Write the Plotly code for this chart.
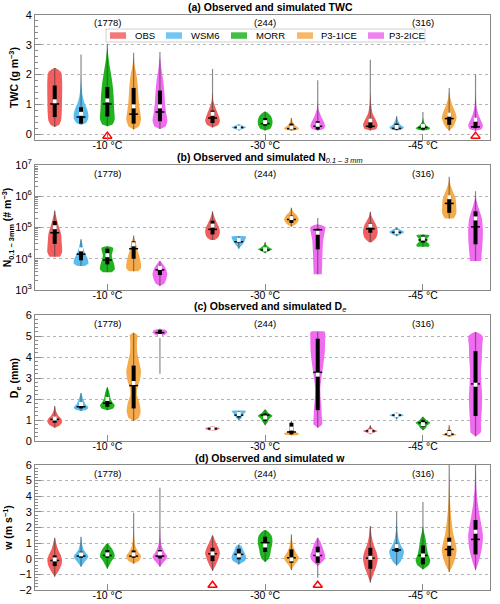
import plotly.graph_objects as go
from plotly.subplots import make_subplots

# ---------------- data ----------------
temps = ["-10 °C", "-30 °C", "-45 °C"]
counts = ["(1778)", "(244)", "(316)"]
models = ["OBS", "WSM6", "MORR", "P3-1ICE", "P3-2ICE"]
colors = ["#f25e5e", "#5bbcf0", "#1fb41f", "#f5ab4c", "#ef6bef"]

# order of the 15 entries: (-10: OBS, WSM6, MORR, P3-1ICE, P3-2ICE), (-30: ...), (-45: ...)
# ---- (a) TWC (g m-3)
twc_lo = [0.24, 0.33, 0.26, 0.15, 0.17, 0.22, 0.12, 0.12, 0.11, 0.12, 0.12, 0.12, 0.12, 0.11, 0.11]
twc_hi = [2.22, 2.67, 3.03, 2.73, 2.76, 2.19, 0.33, 0.76, 0.54, 1.81, 2.50, 0.60, 0.74, 1.55, 2.00]
twc_q1 = [0.57, 0.35, 0.59, 0.35, 0.43, 0.37, 0.19, 0.28, 0.15, 0.15, 0.20, 0.15, 0.15, 0.31, 0.20]
twc_q3 = [1.63, 0.90, 1.58, 1.55, 1.46, 0.79, 0.25, 0.54, 0.35, 0.43, 0.54, 0.35, 0.35, 0.71, 0.54]
twc_mean = [1.10, 0.68, 1.13, 0.93, 0.93, 0.68, 0.22, 0.40, 0.22, 0.31, 0.46, 0.24, 0.28, 0.65, 0.48]
twc_median = [1.01, 0.57, 1.01, 0.67, 0.74, 0.54, 0.22, 0.35, 0.18, 0.26, 0.26, 0.19, 0.22, 0.52, 0.24]
twc_density = [
    [[0.24, 0], [0.3, 0.55], [0.45, 0.85], [0.7, 0.95], [1.2, 1.0], [1.8, 1.0], [2.08, 0.85], [2.22, 0]],
    [[0.31, 0], [0.36, 0.6], [0.5, 0.95], [0.65, 1.0], [0.85, 0.8], [1.05, 0.45], [1.3, 0.2], [1.7, 0.05], [2.0, 0]],
    [[0.26, 0], [0.32, 0.7], [0.5, 1.0], [0.75, 0.95], [1.0, 0.9], [1.3, 0.85], [1.7, 0.7], [2.1, 0.45], [2.5, 0.2], [2.85, 0.05], [3.0, 0]],
    [[0.15, 0], [0.25, 0.7], [0.5, 1.0], [0.8, 0.85], [1.1, 0.7], [1.5, 0.6], [1.9, 0.45], [2.3, 0.15], [2.6, 0]],
    [[0.17, 0], [0.25, 0.75], [0.45, 1.0], [0.7, 0.85], [1.0, 0.7], [1.4, 0.6], [1.8, 0.45], [2.2, 0.2], [2.6, 0]],
    [[0.22, 0], [0.3, 0.75], [0.45, 1.0], [0.6, 0.85], [0.85, 0.45], [1.1, 0.12], [1.4, 0]],
    [[0.12, 0], [0.18, 0.6], [0.22, 1.0], [0.27, 0.6], [0.33, 0]],
    [[0.12, 0], [0.18, 0.7], [0.3, 0.95], [0.45, 1.0], [0.6, 0.8], [0.72, 0.3], [0.76, 0]],
    [[0.11, 0], [0.15, 0.9], [0.2, 1.0], [0.28, 0.55], [0.4, 0.2], [0.54, 0]],
    [[0.12, 0], [0.17, 0.8], [0.25, 1.0], [0.4, 0.85], [0.6, 0.45], [0.85, 0.1], [1.1, 0]],
    [[0.12, 0], [0.17, 0.8], [0.3, 1.0], [0.5, 0.7], [0.7, 0.3], [1.0, 0.1], [1.4, 0]],
    [[0.12, 0], [0.15, 0.7], [0.22, 1.0], [0.3, 0.55], [0.45, 0.2], [0.6, 0]],
    [[0.12, 0], [0.15, 0.8], [0.2, 1.0], [0.28, 0.5], [0.4, 0.15], [0.55, 0]],
    [[0.11, 0], [0.2, 0.4], [0.35, 0.75], [0.55, 1.0], [0.75, 0.8], [0.95, 0.45], [1.2, 0.15], [1.45, 0]],
    [[0.11, 0], [0.16, 0.8], [0.28, 1.0], [0.45, 0.75], [0.65, 0.4], [0.9, 0.15], [1.2, 0.05], [1.4, 0]],
]
twc_flags = [("-10 °C", "MORR"), ("-45 °C", "P3-2ICE")]

# ---- (b) N0.1-3mm (# m-3)
n_lo = [1.15e4, 5.9e3, 3.7e3, 4.0e3, 1.35e3, 4.0e4, 2.1e4, 1.5e4, 1.05e5, 3.2e3, 3.4e4, 5.2e4, 2.4e4, 1.95e5, 8.5e3]
n_hi = [3.5e5, 4.2e4, 2.5e4, 5.5e4, 8.5e3, 3.3e5, 5.2e4, 3.4e4, 4.3e5, 2.0e5, 3.2e5, 9.8e4, 6.0e4, 4.2e6, 1.45e6]
n_q1 = [3.0e4, 8.9e3, 6.6e3, 1.0e4, 3.0e3, 6.0e4, 3.5e4, 1.8e4, 1.4e5, 2.0e4, 6.8e4, 6.5e4, 3.3e4, 2.95e5, 2.9e4]
n_q3 = [1.6e5, 2.1e4, 2.1e4, 3.6e4, 5.9e3, 1.65e5, 4.6e4, 2.2e4, 2.4e5, 9.1e4, 1.4e5, 8.0e4, 5.5e4, 1.05e6, 3.3e5]
n_mean = [1.02e5, 2.0e4, 1.3e4, 2.9e4, 5.1e3, 1.15e5, 4.0e4, 2.0e4, 2.0e5, 6.8e4, 1.15e5, 7.2e4, 4.4e4, 9.3e5, 1.95e5]
n_median = [6.8e4, 1.4e4, 9.1e3, 2.1e4, 4.4e3, 8.7e4, 3.5e4, 1.9e4, 1.8e5, 8.5e4, 9.1e4, 7.0e4, 4.0e4, 5.9e5, 1.05e5]
n_density = [
    [[1.15e4, 0.7], [1.6e4, 1.0], [3.2e4, 0.95], [6.3e4, 0.85], [1.0e5, 0.6], [1.6e5, 0.35], [2.5e5, 0.15], [3.5e5, 0]],
    [[5.9e3, 0.5], [7.1e3, 1.0], [1.0e4, 0.9], [1.4e4, 0.6], [2.0e4, 0.35], [3.2e4, 0.15], [4.2e4, 0]],
    [[3.7e3, 0.6], [4.5e3, 1.0], [6.3e3, 0.95], [8.9e3, 0.75], [1.26e4, 0.6], [1.6e4, 0.7], [2.2e4, 0.8], [2.5e4, 0]],
    [[4.0e3, 0.6], [5.0e3, 1.0], [7.9e3, 0.95], [1.26e4, 0.75], [2.0e4, 0.5], [3.2e4, 0.3], [4.5e4, 0.1], [5.5e4, 0]],
    [[1.35e3, 0], [1.6e3, 0.6], [2.2e3, 0.85], [3.2e3, 1.0], [4.5e3, 0.85], [6.3e3, 0.5], [8.5e3, 0]],
    [[4.0e4, 0.3], [5.0e4, 0.8], [7.1e4, 1.0], [1.0e5, 0.9], [1.4e5, 0.6], [2.0e5, 0.3], [2.8e5, 0.1], [3.3e5, 0]],
    [[2.1e4, 0], [2.8e4, 0.45], [3.8e4, 0.8], [5.0e4, 1.0], [5.2e4, 0.9]],
    [[1.5e4, 0], [1.8e4, 0.6], [2.0e4, 1.0], [2.3e4, 0.55], [2.8e4, 0.15], [3.4e4, 0]],
    [[1.05e5, 0], [1.26e5, 0.6], [1.8e5, 1.0], [2.5e5, 0.7], [3.2e5, 0.25], [4.3e5, 0]],
    [[3.2e3, 0.55], [6.3e3, 0.6], [1.6e4, 0.65], [4.0e4, 0.75], [7.1e4, 0.95], [1.0e5, 1.0], [1.15e5, 0.6], [1.26e5, 0]],
    [[3.4e4, 0.2], [4.5e4, 0.75], [7.1e4, 1.0], [1.12e5, 0.85], [1.6e5, 0.5], [2.2e5, 0.2], [3.2e5, 0]],
    [[5.2e4, 0], [6.3e4, 0.7], [7.2e4, 1.0], [8.3e4, 0.6], [9.8e4, 0]],
    [[2.4e4, 0.8], [2.8e4, 0.9], [3.5e4, 0.55], [4.5e4, 0.6], [5.6e4, 0.9], [6.0e4, 0]],
    [[1.95e5, 0.6], [2.8e5, 0.95], [5.0e5, 0.95], [8.9e5, 0.85], [1.4e6, 0.5], [2.2e6, 0.2], [3.2e6, 0.05], [4.2e6, 0]],
    [[8.5e3, 0.75], [1.6e4, 0.85], [3.2e4, 0.95], [7.9e4, 1.0], [2.0e5, 0.85], [4.0e5, 0.45], [7.1e5, 0.15], [1.0e6, 0]],
]

# ---- (c) De (mm)
de_lo = [0.63, 1.43, 1.47, 0.95, 3.20, 0.48, 0.99, 0.75, 0.27, 0.63, 0.32, 1.03, 0.51, 0.19, 0.22]
de_hi = [1.67, 2.28, 2.56, 5.16, 5.35, 0.70, 1.43, 1.50, 0.96, 5.22, 0.75, 1.36, 1.15, 0.75, 5.19]
de_q1 = [0.87, 1.55, 1.63, 1.55, 5.08, 0.55, 1.12, 0.96, 0.32, 1.47, 0.42, 1.18, 0.67, 0.27, 1.19]
de_q3 = [1.15, 1.84, 2.08, 3.59, 5.28, 0.63, 1.31, 1.31, 0.87, 4.87, 0.50, 1.28, 0.99, 0.51, 4.28]
de_mean = [1.07, 1.76, 2.00, 2.76, 5.00, 0.59, 1.28, 1.12, 0.59, 3.16, 0.46, 1.23, 0.80, 0.38, 2.68]
de_median = [1.03, 1.63, 1.80, 2.64, 5.16, 0.58, 1.23, 1.23, 0.43, 3.27, 0.48, 1.23, 0.87, 0.32, 2.72]
de_density = [
    [[0.63, 0], [0.75, 0.7], [0.9, 1.0], [1.05, 0.9], [1.2, 0.5], [1.4, 0.2], [1.67, 0]],
    [[1.43, 0], [1.5, 0.8], [1.6, 1.0], [1.75, 0.6], [1.9, 0.4], [2.1, 0.2], [2.28, 0]],
    [[1.47, 0], [1.55, 0.8], [1.7, 1.0], [1.85, 0.7], [2.0, 0.45], [2.2, 0.35], [2.4, 0.2], [2.56, 0]],
    [[0.95, 0], [1.1, 0.7], [1.4, 0.95], [1.8, 0.8], [2.2, 0.45], [2.5, 0.5], [2.9, 0.85], [3.3, 1.0], [3.7, 0.8], [4.2, 0.5], [4.7, 0.45], [5.05, 0.5], [5.16, 0]],
    [[4.95, 0], [5.05, 0.6], [5.15, 1.0], [5.28, 0.8], [5.35, 0]],
    [[0.48, 0], [0.54, 0.7], [0.59, 1.0], [0.65, 0.6], [0.7, 0]],
    [[0.99, 0], [1.1, 0.35], [1.25, 0.6], [1.38, 0.9], [1.43, 1.0]],
    [[0.75, 0], [0.9, 0.35], [1.05, 0.55], [1.2, 1.0], [1.32, 0.5], [1.5, 0]],
    [[0.27, 0], [0.3, 0.9], [0.36, 1.0], [0.45, 0.4], [0.6, 0.25], [0.8, 0.15], [0.96, 0]],
    [[0.63, 0], [0.8, 0.6], [1.2, 0.55], [1.6, 0.5], [2.0, 0.4], [2.5, 0.35], [3.0, 0.5], [3.6, 0.75], [4.2, 0.95], [4.8, 1.0], [5.2, 0.95], [5.22, 0]],
    [[0.32, 0], [0.42, 0.6], [0.48, 1.0], [0.55, 0.45], [0.65, 0.15], [0.75, 0]],
    [[1.03, 0], [1.15, 0.4], [1.23, 1.0], [1.3, 0.45], [1.36, 0]],
    [[0.51, 0], [0.62, 0.4], [0.75, 0.6], [0.87, 1.0], [1.0, 0.45], [1.15, 0]],
    [[0.19, 0], [0.25, 0.6], [0.3, 1.0], [0.38, 0.4], [0.55, 0.15], [0.75, 0]],
    [[0.22, 0], [0.4, 0.7], [0.9, 0.75], [1.5, 0.85], [2.1, 0.9], [2.7, 0.8], [3.3, 0.75], [3.9, 0.85], [4.5, 0.9], [5.0, 0.95], [5.19, 0]],
]

# ---- (d) w (m s-1)
w_lo = [-1.15, -0.51, -0.64, -0.32, -0.51, -0.79, -0.36, -0.21, -0.73, -1.22, -1.54, -0.43, -0.68, -0.85, -0.73]
w_hi = [1.35, 1.41, 0.98, 2.95, 4.55, 1.50, 0.92, 1.84, 1.56, 1.35, 2.09, 2.99, 3.63, 6.50, 6.50]
w_q1 = [-0.47, 0.06, 0.06, 0.06, 0.02, -0.15, -0.04, 0.43, -0.26, -0.26, -0.64, 0.43, -0.36, 0.17, 0.28]
w_q3 = [0.21, 0.45, 0.56, 0.53, 0.56, 0.70, 0.64, 1.41, 0.60, 0.77, 0.70, 0.96, 0.85, 1.35, 2.48]
w_mean = [-0.04, 0.28, 0.28, 0.28, 0.34, 0.34, 0.21, 0.85, -0.04, 0.28, 0.06, 0.81, 0.21, 0.96, 1.73]
w_median = [-0.11, 0.17, 0.21, 0.17, 0.17, 0.32, 0.28, 1.03, 0.06, 0.21, 0.04, 0.56, 0.21, 0.60, 1.24]
w_density = [
    [[-1.15, 0], [-0.8, 0.5], [-0.4, 0.9], [-0.1, 1.0], [0.25, 0.8], [0.6, 0.45], [1.0, 0.2], [1.35, 0]],
    [[-0.51, 0], [-0.3, 0.35], [-0.05, 0.75], [0.15, 1.0], [0.35, 0.7], [0.6, 0.35], [1.0, 0.12], [1.41, 0]],
    [[-0.64, 0], [-0.4, 0.3], [-0.1, 0.65], [0.15, 1.0], [0.4, 0.9], [0.7, 0.55], [0.98, 0]],
    [[-0.32, 0], [-0.15, 0.7], [0.05, 0.95], [0.2, 1.0], [0.45, 0.6], [0.8, 0.25], [1.3, 0.1], [1.9, 0.03], [2.2, 0]],
    [[-0.51, 0], [-0.25, 0.45], [0.0, 0.9], [0.15, 1.0], [0.4, 0.65], [0.8, 0.25], [1.3, 0.08], [1.9, 0.03], [2.3, 0]],
    [[-0.79, 0], [-0.4, 0.45], [0.0, 0.8], [0.35, 1.0], [0.7, 0.8], [1.1, 0.4], [1.5, 0]],
    [[-0.36, 0], [-0.15, 0.8], [0.05, 1.0], [0.3, 0.85], [0.55, 0.6], [0.81, 0.35], [0.92, 0]],
    [[-0.21, 0], [0.0, 0.5], [0.3, 0.7], [0.6, 0.8], [0.9, 0.95], [1.2, 1.0], [1.5, 0.85], [1.75, 0.4], [1.84, 0]],
    [[-0.73, 0], [-0.4, 0.4], [-0.1, 0.9], [0.1, 1.0], [0.4, 0.6], [0.8, 0.25], [1.2, 0.1], [1.56, 0]],
    [[-0.47, 0], [-0.3, 0.4], [-0.05, 0.9], [0.2, 1.0], [0.45, 0.85], [0.8, 0.6], [1.1, 0.35], [1.35, 0]],
    [[-1.54, 0], [-1.0, 0.4], [-0.5, 0.8], [0.0, 1.0], [0.4, 0.85], [0.9, 0.45], [1.4, 0.2], [2.0, 0.05], [2.09, 0]],
    [[-0.43, 0], [-0.2, 0.5], [0.2, 0.9], [0.5, 1.0], [0.8, 0.65], [1.2, 0.3], [1.8, 0.1], [2.3, 0.03], [2.5, 0]],
    [[-0.68, 0], [-0.4, 0.8], [-0.1, 1.0], [0.3, 0.7], [0.8, 0.5], [1.3, 0.35], [1.7, 0.15], [2.1, 0]],
    [[-0.85, 0], [-0.4, 0.5], [0.2, 0.9], [0.6, 1.0], [1.0, 0.85], [1.6, 0.55], [2.3, 0.35], [3.0, 0.2], [4.0, 0.08], [5.2, 0.02], [5.5, 0]],
    [[-0.73, 0], [-0.3, 0.35], [0.3, 0.7], [1.0, 0.95], [1.5, 1.0], [2.0, 0.85], [2.8, 0.55], [3.6, 0.3], [4.5, 0.12], [5.5, 0.04], [6.1, 0]],
]
w_flags = [("-30 °C", "OBS"), ("-30 °C", "P3-2ICE")]

# ---------------- layout helpers ----------------
L, R, T, B = 35, 490, 15, 590
W_FIG, H_FIG = 500, 604
def pxx(px):
    return (px - L) / (R - L)
def pxy(py):
    return (B - py) / (B - T)

panel_top = [15, 165, 315, 465]
panel_bot = [140, 290, 441, 590]
HW = 0.28
FONT = "Liberation Sans, Arial, sans-serif"

def xpos(i):
    g, m = divmod(i, 5)
    return 1 + 6 * g + m

fig = make_subplots(rows=4, cols=1)

def add_panel(r, lo, hi, q1, q3, mean, median, dens, flags=None, flag_y=None):
    for m in range(5):
        xs, ys = [], []
        for g in range(3):
            i = g * 5 + m
            p = xpos(i)
            prof = dens[i]
            right = [(p + HW * w, v) for v, w in prof]
            left = [(p - HW * w, v) for v, w in reversed(prof)]
            if prof[-1][1] == 0:
                left = left[1:]
            if prof[0][1] == 0:
                left = left[:-1]
            for x, y in right + left:
                xs.append(x)
                ys.append(y)
            xs.append(None)
            ys.append(None)
        fig.add_trace(go.Scatter(x=xs, y=ys, mode="lines", fill="toself",
                                 fillcolor=colors[m],
                                 line=dict(width=0, shape="spline", smoothing=0.7, color=colors[m]),
                                 hoverinfo="skip", showlegend=False), row=r, col=1)
    wx, wy, bx, by, mx, my, dx, dy = [], [], [], [], [], [], [], []
    for i in range(15):
        p = xpos(i)
        wx += [p, p, None]; wy += [lo[i], hi[i], None]
        bx += [p, p, None]; by += [q1[i], q3[i], None]
        mx += [p - 0.17, p + 0.17, None]; my += [median[i], median[i], None]
        dx.append(p); dy.append(mean[i])
    fig.add_trace(go.Scatter(x=wx, y=wy, mode="lines", line=dict(color="rgba(60,60,60,0.6)", width=1.2),
                             hoverinfo="skip", showlegend=False), row=r, col=1)
    fig.add_trace(go.Scatter(x=bx, y=by, mode="lines", line=dict(color="black", width=4),
                             hoverinfo="skip", showlegend=False), row=r, col=1)
    fig.add_trace(go.Scatter(x=mx, y=my, mode="lines", line=dict(color="black", width=1.5),
                             hoverinfo="skip", showlegend=False), row=r, col=1)
    fig.add_trace(go.Scatter(x=dx, y=dy, mode="markers",
                             marker=dict(symbol="square", size=4, color="white", line=dict(width=0)),
                             hoverinfo="skip", showlegend=False), row=r, col=1)
    if flags:
        fx = [1 + 6 * temps.index(t) + models.index(mo) for t, mo in flags]
        fig.add_trace(go.Scatter(x=fx, y=[flag_y] * len(fx), mode="markers", cliponaxis=False,
                                 marker=dict(symbol="triangle-up-open", size=8, color="#ff0000",
                                             line=dict(width=1.5, color="#ff0000")),
                                 hoverinfo="skip", showlegend=False), row=r, col=1)

add_panel(1, twc_lo, twc_hi, twc_q1, twc_q3, twc_mean, twc_median, twc_density, twc_flags, -0.07)
add_panel(2, n_lo, n_hi, n_q1, n_q3, n_mean, n_median, n_density)
add_panel(3, de_lo, de_hi, de_q1, de_q3, de_mean, de_median, de_density)
add_panel(4, w_lo, w_hi, w_q1, w_q3, w_mean, w_median, w_density, w_flags, -1.70)

AX = "#888888"
common_x = dict(range=[0.25, 17.55], tickvals=[3, 9, 15], ticktext=temps, ticks="inside", ticklen=6,
                tickcolor=AX, showline=True, linecolor=AX, mirror=True, showgrid=False, zeroline=False,
                tickfont=dict(family=FONT, size=10.5, color="black"), automargin=False,
                ticklabelstandoff=-5)
common_y = dict(ticks="inside", ticklen=6, tickcolor=AX, showline=True, linecolor=AX, mirror=True,
                showgrid=True, gridcolor="#b4b4b4", griddash="dot", gridwidth=1, zeroline=False,
                tickfont=dict(family=FONT, size=11, color="black"), automargin=False,
                title_font=dict(family=FONT, size=10.5, color="black"), title_standoff=4)
for r in range(1, 5):
    fig.update_xaxes(common_x, row=r, col=1)
    fig.update_yaxes(common_y, row=r, col=1)
    dom = [pxy(panel_bot[r - 1]), pxy(panel_top[r - 1])]
    fig.update_yaxes(domain=dom, row=r, col=1)

fig.update_yaxes(range=[-0.2, 4], dtick=1, minor=dict(dtick=0.2, ticks="inside", ticklen=3, tickcolor=AX),
                 title_text="<b>TWC (g m<sup>−3</sup>)</b>", row=1, col=1)
fig.update_yaxes(type="log", range=[3, 7], tickvals=[1e3, 1e4, 1e5, 1e6, 1e7],
                 ticktext=["10<sup>3</sup>", "10<sup>4</sup>", "10<sup>5</sup>", "10<sup>6</sup>", "10<sup>7</sup>"],
                 minor=dict(dtick="D1", ticks="inside", ticklen=3, tickcolor=AX),
                 title_text="<b>N<sub>0.1 − 3mm</sub> (# m<sup>−3</sup>)</b>", row=2, col=1)
fig.update_yaxes(range=[0, 6], dtick=1, minor=dict(dtick=0.2, ticks="inside", ticklen=3, tickcolor=AX),
                 title_text="<b>D<sub>e</sub> (mm)</b>", row=3, col=1)
fig.update_yaxes(range=[-2, 6], dtick=1, minor=dict(dtick=0.2, ticks="inside", ticklen=3, tickcolor=AX),
                 title_text="<b>w (m s<sup>−1</sup>)</b>", row=4, col=1)

annotations = []
titles = ["<b>(a) Observed and simulated TWC</b>",
          "<b>(b) Observed and simulated N</b><sub><i>0.1 – 3 mm</i></sub>",
          "<b>(c) Observed and simulated D</b><sub><i>e</i></sub>",
          "<b>(d) Observed and simulated w</b>"]
title_y = [7, 157.5, 307.5, 457.5]
for k in range(4):
    annotations.append(dict(text=titles[k], x=pxx(270), y=pxy(title_y[k]), xref="paper", yref="paper",
                            xanchor="center", yanchor="middle", showarrow=False,
                            font=dict(family=FONT, size=10.5, color="black")))
    xr = "x" if k == 0 else f"x{k+1}"
    for g in range(3):
        annotations.append(dict(text=counts[g], x=1 + 6 * g + 2, y=pxy(panel_top[k] + 8),
                                xref=xr, yref="paper", xanchor="center", yanchor="middle",
                                showarrow=False, font=dict(family=FONT, size=9.5, color="black")))

# manual legend in panel (a)
shapes = [dict(type="rect", xref="paper", yref="paper", x0=pxx(106), x1=pxx(425), y0=pxy(42), y1=pxy(29),
               line=dict(color="#d0d0d0", width=1), fillcolor="white", layer="above")]
sw_x = [110, 166, 231, 297, 368]
tx_x = [133, 189, 254, 319, 387]
for m in range(5):
    shapes.append(dict(type="rect", xref="paper", yref="paper", x0=pxx(sw_x[m]), x1=pxx(sw_x[m] + 16),
                       y0=pxy(38.8), y1=pxy(32.3), line=dict(width=0), fillcolor=colors[m], opacity=0.85,
                       layer="above"))
    annotations.append(dict(text=models[m], x=pxx(tx_x[m]), y=pxy(35.7), xref="paper", yref="paper",
                            xanchor="left", yanchor="middle", showarrow=False,
                            font=dict(family=FONT, size=9.5, color="black")))

fig.update_layout(width=W_FIG, height=H_FIG, margin=dict(l=L, r=W_FIG - R, t=T, b=H_FIG - B),
                  paper_bgcolor="white", plot_bgcolor="white", showlegend=False,
                  annotations=annotations, shapes=shapes, font=dict(family=FONT))

fig.write_html("out.html", config={"displayModeBar": False},
               post_script="document.body.style.margin='0';document.body.style.overflow='hidden';")
